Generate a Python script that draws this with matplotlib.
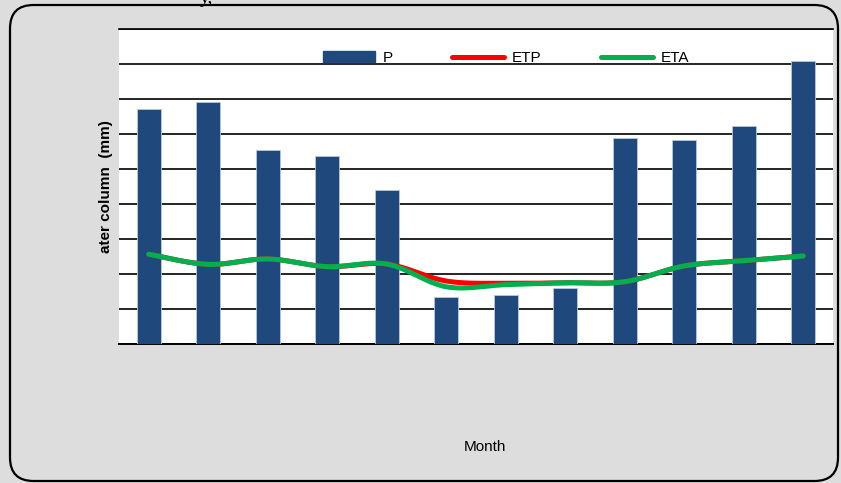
import matplotlib
matplotlib.use("Agg")
import matplotlib.pyplot as plt
import matplotlib.patches as mpatches
from matplotlib.lines import Line2D
import numpy as np

# ── Data (mm) ───────────────────────────────────────────────────────────────
months = ["Jan", "Feb", "Mar", "Apr", "May", "Jun",
          "Jul", "Aug", "Sep", "Oct", "Nov", "Dec"]
p_vals = [134.5, 138.5, 110.9, 107.4, 88.0, 26.9, 28.0, 32.2, 117.7, 116.6, 124.6, 161.7]
etp_vals = [51.3, 45.5, 48.6, 44.2, 45.7, 36.0, 34.7, 35.0, 35.6, 44.6, 47.6, 50.3]
eta_vals = [51.3, 45.5, 48.6, 44.2, 45.7, 32.7, 33.9, 35.0, 35.6, 44.6, 47.6, 50.3]

C_BAR = "#1F497D"
C_ETP = "#FF0000"
C_ETA = "#00B050"

plt.rcParams.update({"font.family": ["Liberation Sans", "DejaVu Sans"]})


def _smooth(x, y, n=20):
    """Excel-like smoothed line (Catmull-Rom through the points)."""
    x = np.asarray(x, float)
    y = np.asarray(y, float)
    px = np.concatenate([[x[0]], x, [x[-1]]])
    py = np.concatenate([[y[0]], y, [y[-1]]])
    xs, ys = [], []
    t = np.linspace(0, 1, n, endpoint=False)
    for i in range(1, len(px) - 2):
        for arr, out in ((px, xs), (py, ys)):
            p0, p1, p2, p3 = arr[i - 1], arr[i], arr[i + 1], arr[i + 2]
            out.extend(0.5 * ((2 * p1) + (-p0 + p2) * t
                              + (2 * p0 - 5 * p1 + 4 * p2 - p3) * t ** 2
                              + (-p0 + 3 * p1 - 3 * p2 + p3) * t ** 3))
    xs.append(x[-1])
    ys.append(y[-1])
    return np.array(xs), np.array(ys)


fig = plt.figure(figsize=(8.41, 4.83), dpi=100)
fig.patch.set_facecolor("#DDDDDD")

# rounded chart border
border = mpatches.FancyBboxPatch((10 / 841, 2 / 483), 828 / 841, 476 / 483,
                                 boxstyle="round,pad=0,rounding_size=0.028",
                                 transform=fig.transFigure, facecolor="none",
                                 edgecolor="black", lw=1.6, zorder=0,
                                 mutation_aspect=841 / 483)
fig.patches.append(border)

ax = fig.add_axes([119 / 841, 1 - 344 / 483, 714 / 841, 315 / 483])
ax.set_facecolor("white")

x = np.arange(len(months))
ax.bar(x, p_vals, width=0.41, color=C_BAR, edgecolor="#B8C8DC", lw=0.6, zorder=3)

sx, sy = _smooth(x, etp_vals)
ax.plot(sx, sy, color=C_ETP, lw=3.6, solid_capstyle="round", zorder=4)
sx, sy = _smooth(x, eta_vals)
ax.plot(sx, sy, color=C_ETA, lw=3.6, solid_capstyle="round", zorder=5)

ax.set_xlim(-0.5, 11.5)
ax.set_ylim(0, 180)
ax.set_yticks(np.arange(0, 181, 20))
ax.yaxis.grid(True, color="black", lw=1.2, zorder=0)
ax.set_axisbelow(True)
ax.tick_params(left=False, bottom=False, labelleft=False, labelbottom=False)
for s in ("right", "left"):
    ax.spines[s].set_visible(False)
ax.spines["top"].set_color("black")
ax.spines["top"].set_linewidth(1.2)
ax.spines["bottom"].set_color("black")
ax.spines["bottom"].set_linewidth(1.4)

ax.set_ylabel("ater column  (mm)", fontsize=11, fontweight="bold", labelpad=4)
fig.text(485 / 841, 1 - 447 / 483, "Month", ha="center", va="center", fontsize=11)
fig.text(200 / 841, 1.004, "y,", ha="left", va="center",
         fontsize=14, family="Liberation Serif")

handles = [mpatches.Patch(color=C_BAR, label="P"),
           Line2D([], [], color=C_ETP, lw=3.6, solid_capstyle="round", label="ETP"),
           Line2D([], [], color=C_ETA, lw=3.6, solid_capstyle="round", label="ETA")]
ax.legend(handles=handles, ncol=3, frameon=False, fontsize=11,
          loc="center left", bbox_to_anchor=((323 - 119) / 714, (344 - 58) / 315),
          borderpad=0, borderaxespad=0, handlelength=3.4, handletextpad=0.5,
          columnspacing=3.9)

fig.savefig("out.png", dpi=100, facecolor=fig.get_facecolor())
